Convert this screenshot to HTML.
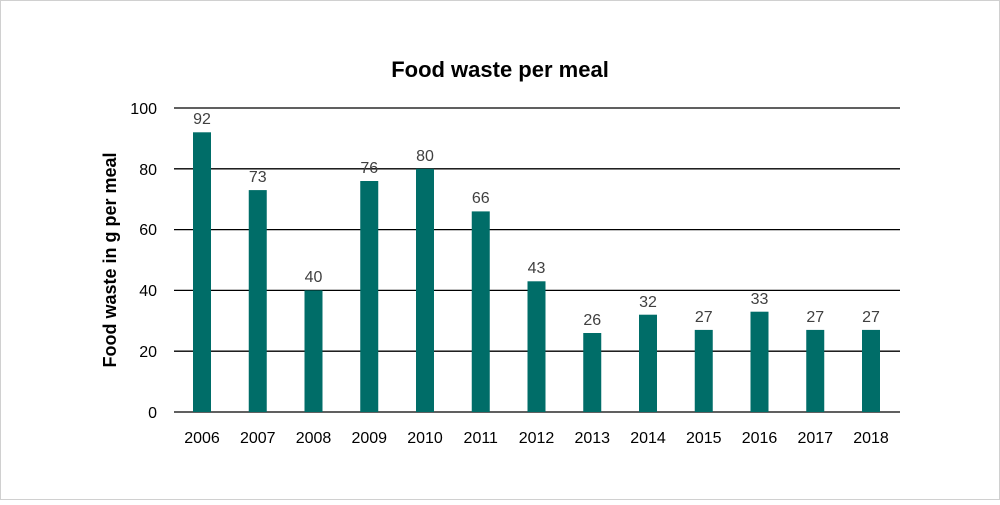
<!DOCTYPE html><html><head><style>body{margin:0;background:#fff}</style></head><body>
<svg width="1000" height="500" xmlns="http://www.w3.org/2000/svg" font-family="Liberation Sans, sans-serif">
<rect x="0.5" y="0.5" width="999" height="499" fill="#fff" stroke="#d0d0d0"/>
<text x="500" y="77" text-anchor="middle" font-size="22" font-weight="bold" fill="#000">Food waste per meal</text>
<text transform="translate(116,260) rotate(-90)" text-anchor="middle" font-size="18" font-weight="bold">Food waste in g per meal</text>
<g stroke="#000" stroke-width="1.3">
<line x1="174" x2="900" y1="108" y2="108"/><line x1="174" x2="900" y1="168.8" y2="168.8"/><line x1="174" x2="900" y1="229.6" y2="229.6"/><line x1="174" x2="900" y1="290.4" y2="290.4"/><line x1="174" x2="900" y1="351.2" y2="351.2"/><line x1="174" x2="900" y1="412" y2="412"/>
</g>
<g font-size="16" text-anchor="end" fill="#000">
<text x="157" y="114">100</text><text x="157" y="175">80</text><text x="157" y="235">60</text><text x="157" y="296">40</text><text x="157" y="357">20</text><text x="157" y="418">0</text>
</g>
<g fill="#006d68">
<rect x="193" y="132.3" width="18" height="279.7"/>
<rect x="248.75" y="190.1" width="18" height="221.9"/>
<rect x="304.5" y="290.4" width="18" height="121.6"/>
<rect x="360.25" y="181" width="18" height="231"/>
<rect x="416" y="168.8" width="18" height="243.2"/>
<rect x="471.75" y="211.4" width="18" height="200.6"/>
<rect x="527.5" y="281.3" width="18" height="130.7"/>
<rect x="583.25" y="333" width="18" height="79"/>
<rect x="639" y="314.7" width="18" height="97.3"/>
<rect x="694.75" y="329.9" width="18" height="82.1"/>
<rect x="750.5" y="311.7" width="18" height="100.3"/>
<rect x="806.25" y="329.9" width="18" height="82.1"/>
<rect x="862" y="329.9" width="18" height="82.1"/>
</g>
<g font-size="16" text-anchor="middle" fill="#404040">
<text x="202" y="124">92</text>
<text x="257.75" y="182">73</text>
<text x="313.5" y="282">40</text>
<text x="369.25" y="173">76</text>
<text x="425" y="161">80</text>
<text x="480.75" y="203">66</text>
<text x="536.5" y="273">43</text>
<text x="592.25" y="325">26</text>
<text x="648" y="307">32</text>
<text x="703.75" y="322">27</text>
<text x="759.5" y="304">33</text>
<text x="815.25" y="322">27</text>
<text x="871" y="322">27</text>
</g>
<g font-size="16" text-anchor="middle" fill="#000">
<text x="202" y="443">2006</text>
<text x="257.75" y="443">2007</text>
<text x="313.5" y="443">2008</text>
<text x="369.25" y="443">2009</text>
<text x="425" y="443">2010</text>
<text x="480.75" y="443">2011</text>
<text x="536.5" y="443">2012</text>
<text x="592.25" y="443">2013</text>
<text x="648" y="443">2014</text>
<text x="703.75" y="443">2015</text>
<text x="759.5" y="443">2016</text>
<text x="815.25" y="443">2017</text>
<text x="871" y="443">2018</text>
</g>
</svg></body></html>
